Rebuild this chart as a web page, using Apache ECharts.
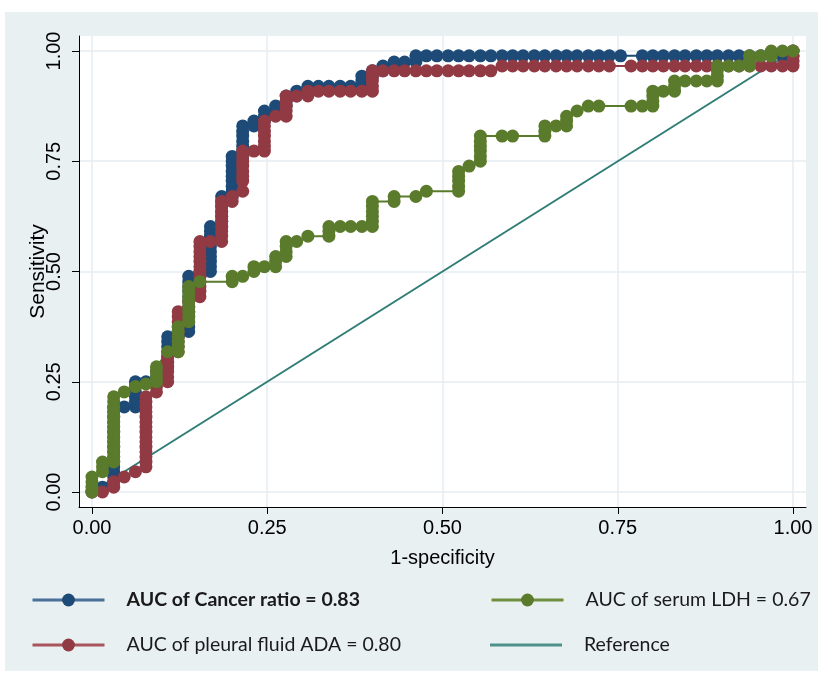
<!DOCTYPE html>
<html>
<head>
<meta charset="utf-8">
<title>ROC curves</title>
<script src="https://cdn.jsdelivr.net/npm/echarts@6.0.0/dist/echarts.min.js"></script>
<style>
	html, body { margin: 0; padding: 0; background: #fff; }
	#main { width: 818px; height: 675px; }
</style>
</head>
<body>
<div id="main"></div>
<script>
// 名称
var seriesNames = ['AUC of Cancer ratio = 0.83', 'AUC of pleural fluid ADA = 0.80', 'AUC of serum LDH = 0.67', 'Reference'];
var tickValues = [0, 0.25, 0.5, 0.75, 1];

// [1-specificity, sensitivity]
var cancerRatio = [
	[0, 0], [0.015, 0.011], [0.031, 0.023], [0.031, 0.034], [0.031, 0.046], [0.031, 0.057], [0.031, 0.068],
	[0.031, 0.08], [0.031, 0.091], [0.031, 0.102], [0.031, 0.114], [0.031, 0.125], [0.031, 0.136], [0.031, 0.148],
	[0.031, 0.159], [0.031, 0.17], [0.031, 0.182], [0.031, 0.193],
	[0.046, 0.193], [0.062, 0.193], [0.062, 0.205], [0.062, 0.216], [0.062, 0.227], [0.062, 0.239], [0.062, 0.25],
	[0.077, 0.25], [0.092, 0.25], [0.092, 0.261], [0.092, 0.273],
	[0.108, 0.284], [0.108, 0.295], [0.108, 0.307], [0.108, 0.318], [0.108, 0.33], [0.108, 0.341], [0.108, 0.352],
	[0.123, 0.352], [0.123, 0.364],
	[0.138, 0.364], [0.138, 0.375], [0.138, 0.386], [0.138, 0.398], [0.138, 0.409], [0.138, 0.42], [0.138, 0.432],
	[0.138, 0.443], [0.138, 0.455], [0.138, 0.466], [0.138, 0.477], [0.138, 0.489],
	[0.154, 0.489], [0.154, 0.5],
	[0.169, 0.5], [0.169, 0.511], [0.169, 0.523], [0.169, 0.534], [0.169, 0.545], [0.169, 0.557], [0.169, 0.568],
	[0.169, 0.58], [0.169, 0.591], [0.169, 0.602],
	[0.185, 0.602], [0.185, 0.614], [0.185, 0.625], [0.185, 0.636], [0.185, 0.648], [0.185, 0.659], [0.185, 0.67],
	[0.2, 0.67], [0.2, 0.682], [0.2, 0.693], [0.2, 0.705], [0.2, 0.716], [0.2, 0.727], [0.2, 0.739], [0.2, 0.75], [0.2, 0.761],
	[0.215, 0.761], [0.215, 0.773], [0.215, 0.784], [0.215, 0.795], [0.215, 0.807], [0.215, 0.818], [0.215, 0.83],
	[0.231, 0.83], [0.231, 0.841],
	[0.246, 0.841], [0.246, 0.852], [0.246, 0.864],
	[0.262, 0.864], [0.262, 0.875],
	[0.277, 0.875], [0.277, 0.886], [0.277, 0.898],
	[0.292, 0.898], [0.292, 0.909],
	[0.308, 0.909], [0.308, 0.92],
	[0.323, 0.92], [0.338, 0.92], [0.354, 0.92], [0.369, 0.92],
	[0.385, 0.92], [0.385, 0.932], [0.385, 0.943],
	[0.4, 0.943], [0.4, 0.955],
	[0.415, 0.955], [0.415, 0.966],
	[0.431, 0.966], [0.431, 0.975], [0.446, 0.975],
	[0.462, 0.975], [0.462, 0.989],
	[0.477, 0.989], [0.492, 0.989], [0.508, 0.989], [0.523, 0.989], [0.538, 0.989], [0.554, 0.989], [0.569, 0.989],
	[0.585, 0.989], [0.6, 0.989], [0.615, 0.989], [0.631, 0.989], [0.646, 0.989], [0.662, 0.989], [0.677, 0.989],
	[0.692, 0.989], [0.708, 0.989], [0.723, 0.989], [0.738, 0.989], [0.754, 0.989],
	[0.785, 0.989], [0.8, 0.989], [0.815, 0.989], [0.831, 0.989], [0.846, 0.989], [0.862, 0.989], [0.877, 0.989],
	[0.892, 0.989], [0.908, 0.989], [0.923, 0.989], [0.938, 0.989], [0.954, 0.989], [0.969, 0.989], [0.985, 0.989],
	[1, 0.989], [1, 1]
];

var pleuralADA = [
	[0, 0], [0.015, 0], [0.031, 0.011], [0.031, 0.023], [0.046, 0.034], [0.062, 0.046], [0.077, 0.057],
	[0.077, 0.068], [0.077, 0.08], [0.077, 0.091], [0.077, 0.102], [0.077, 0.114], [0.077, 0.125], [0.077, 0.136],
	[0.077, 0.148], [0.077, 0.159], [0.077, 0.17], [0.077, 0.182], [0.077, 0.193], [0.077, 0.205], [0.077, 0.216],
	[0.092, 0.227], [0.092, 0.239], [0.092, 0.25],
	[0.108, 0.25], [0.108, 0.261], [0.108, 0.273], [0.108, 0.284], [0.108, 0.295], [0.108, 0.307],
	[0.123, 0.318], [0.123, 0.33], [0.123, 0.341], [0.123, 0.352], [0.123, 0.364], [0.123, 0.375], [0.123, 0.386],
	[0.123, 0.398], [0.123, 0.409],
	[0.138, 0.409], [0.138, 0.42], [0.138, 0.432],
	[0.154, 0.443], [0.154, 0.455], [0.154, 0.466], [0.154, 0.477], [0.154, 0.489], [0.154, 0.5], [0.154, 0.511],
	[0.154, 0.523], [0.154, 0.534], [0.154, 0.545], [0.154, 0.557], [0.154, 0.568],
	[0.169, 0.568],
	[0.185, 0.568], [0.185, 0.58], [0.185, 0.591], [0.185, 0.602], [0.185, 0.614], [0.185, 0.625], [0.185, 0.636],
	[0.185, 0.648], [0.185, 0.659],
	[0.2, 0.659], [0.2, 0.67],
	[0.215, 0.682], [0.215, 0.705], [0.215, 0.716], [0.215, 0.727], [0.215, 0.739], [0.215, 0.75], [0.215, 0.761], [0.215, 0.773],
	[0.231, 0.773],
	[0.246, 0.773], [0.246, 0.784], [0.246, 0.795], [0.246, 0.807], [0.246, 0.818], [0.246, 0.83], [0.246, 0.841],
	[0.262, 0.852],
	[0.277, 0.852], [0.277, 0.864], [0.277, 0.875], [0.277, 0.886], [0.277, 0.898],
	[0.292, 0.898], [0.308, 0.898], [0.308, 0.909],
	[0.323, 0.909], [0.338, 0.909], [0.354, 0.909], [0.369, 0.909], [0.385, 0.909],
	[0.4, 0.909], [0.4, 0.92], [0.4, 0.932], [0.4, 0.943], [0.4, 0.955],
	[0.415, 0.955], [0.431, 0.955], [0.446, 0.955], [0.462, 0.955], [0.477, 0.955], [0.492, 0.955], [0.508, 0.955],
	[0.523, 0.955], [0.538, 0.955], [0.554, 0.955], [0.569, 0.955],
	[0.585, 0.966], [0.6, 0.966], [0.615, 0.966], [0.631, 0.966], [0.646, 0.966], [0.662, 0.966], [0.677, 0.966],
	[0.692, 0.966], [0.708, 0.966], [0.723, 0.966], [0.738, 0.966],
	[0.769, 0.966], [0.785, 0.966], [0.8, 0.966], [0.815, 0.966], [0.831, 0.966], [0.846, 0.966], [0.862, 0.966],
	[0.877, 0.966], [0.892, 0.966], [0.908, 0.966], [0.923, 0.966], [0.938, 0.966], [0.954, 0.966], [0.969, 0.966],
	[0.985, 0.966], [1, 0.966], [1, 0.977], [1, 0.989], [1, 1]
];

var serumLDH = [
	[0, 0], [0, 0.011], [0, 0.023], [0, 0.034],
	[0.015, 0.046], [0.015, 0.057], [0.015, 0.068],
	[0.031, 0.068], [0.031, 0.08], [0.031, 0.091], [0.031, 0.102], [0.031, 0.114], [0.031, 0.125], [0.031, 0.136],
	[0.031, 0.148], [0.031, 0.159], [0.031, 0.17], [0.031, 0.182], [0.031, 0.193], [0.031, 0.205], [0.031, 0.216],
	[0.046, 0.227], [0.062, 0.239], [0.077, 0.245],
	[0.092, 0.25], [0.092, 0.261], [0.092, 0.273], [0.092, 0.284],
	[0.108, 0.318],
	[0.123, 0.318], [0.123, 0.33], [0.123, 0.341], [0.123, 0.352], [0.123, 0.364], [0.123, 0.375],
	[0.138, 0.386], [0.138, 0.398], [0.138, 0.409], [0.138, 0.42], [0.138, 0.432], [0.138, 0.443], [0.138, 0.455], [0.138, 0.466],
	[0.154, 0.477],
	[0.2, 0.477], [0.2, 0.489],
	[0.215, 0.489],
	[0.231, 0.5], [0.231, 0.511],
	[0.246, 0.511],
	[0.262, 0.511], [0.262, 0.523], [0.262, 0.534],
	[0.277, 0.534], [0.277, 0.545], [0.277, 0.557], [0.277, 0.568],
	[0.292, 0.568],
	[0.308, 0.58],
	[0.338, 0.58], [0.338, 0.591], [0.338, 0.602],
	[0.354, 0.602], [0.369, 0.602], [0.385, 0.602],
	[0.4, 0.602], [0.4, 0.614], [0.4, 0.625], [0.4, 0.636], [0.4, 0.648], [0.4, 0.659],
	[0.431, 0.659], [0.431, 0.67],
	[0.462, 0.67],
	[0.477, 0.682],
	[0.523, 0.682], [0.523, 0.693], [0.523, 0.705], [0.523, 0.716], [0.523, 0.727],
	[0.538, 0.739],
	[0.554, 0.75], [0.554, 0.761], [0.554, 0.773], [0.554, 0.784], [0.554, 0.795], [0.554, 0.807],
	[0.585, 0.807], [0.6, 0.807],
	[0.646, 0.807], [0.646, 0.818], [0.646, 0.83],
	[0.662, 0.83],
	[0.677, 0.83], [0.677, 0.841], [0.677, 0.852],
	[0.692, 0.864],
	[0.708, 0.875], [0.723, 0.875],
	[0.769, 0.875], [0.785, 0.875],
	[0.8, 0.875], [0.8, 0.886], [0.8, 0.898], [0.8, 0.909],
	[0.815, 0.909],
	[0.831, 0.909], [0.831, 0.92], [0.831, 0.932],
	[0.846, 0.932], [0.862, 0.932], [0.877, 0.932],
	[0.892, 0.932], [0.892, 0.943], [0.892, 0.955], [0.892, 0.966],
	[0.908, 0.966], [0.923, 0.966],
	[0.938, 0.966], [0.938, 0.977], [0.938, 0.989],
	[0.954, 0.989],
	[0.969, 0.989], [0.969, 1],
	[0.985, 1], [1, 1]
];

var referenceLine = [[0, 0], [1, 1]];

var colors = ['#1d4a76', '#913a44', '#5b7b2c', '#2f7d75'];
var legendLineColors = ['#4a6f98', '#a9555e', '#6f8f3f', '#4d918a'];

var axisFont = "'Liberation Sans', Arial, sans-serif";
var legendFont = "Lato, 'Open Sans', sans-serif";

var myChart = echarts.init(document.getElementById('main'));

function rocSeries(name, data, color) {
	return {
		name: name,
		type: 'line',
		data: data,
		symbol: 'circle',
		symbolSize: 13,
		color: color,
		itemStyle: { color: color },
		lineStyle: { color: color, width: 2 },
		animation: false
	};
}

// 图例：每一项单独放
function legendItem(idx, left, top, bold, isLine) {
	return {
		data: [seriesNames[idx]],
		left: left,
		top: top,
		padding: 0,
		itemWidth: 72,
		itemHeight: isLine ? 3 : 16,
		icon: isLine ? 'rect' : undefined,
		selectedMode: false,
		itemStyle: { color: isLine ? legendLineColors[idx] : colors[idx] },
		lineStyle: { color: legendLineColors[idx], width: 3 },
		textStyle: {
			fontFamily: legendFont,
			fontSize: 19.5,
			fontWeight: bold ? 'bold' : 'normal',
			color: '#1a1a1a',
			padding: [0, 0, 0, 17]
		}
	};
}

var option = {
	backgroundColor: '#fff',
	animation: false,
	graphic: [{
		type: 'rect',
		z: -10,
		shape: { x: 5, y: 12, width: 813, height: 659 },
		style: { fill: '#e8f0f2' }
	}],
	grid: {
		left: 79,
		top: 36,
		width: 727,
		height: 471,
		show: true,
		backgroundColor: '#fff',
		borderWidth: 0
	},
	legend: [
		legendItem(0, 31, 590, true, false),
		legendItem(2, 490, 590, false, false),
		legendItem(1, 31, 635, false, false),
		legendItem(3, 490, 635, false, true)
	],
	xAxis: {
		type: 'value',
		min: -0.0185,
		max: 1.0185,
		name: '1-specificity',
		nameLocation: 'middle',
		nameGap: 41,
		nameTextStyle: { fontFamily: axisFont, fontSize: 20, color: '#000' },
		axisLine: { onZero: false, lineStyle: { color: '#000', width: 1 } },
		axisTick: { customValues: tickValues, length: 7, lineStyle: { color: '#000' } },
		axisLabel: {
			customValues: tickValues,
			margin: 11,
			fontFamily: axisFont,
			fontSize: 20,
			color: '#000',
			formatter: function(v) { return v.toFixed(2); }
		},
		splitLine: { show: true, lineStyle: { color: '#e4edf1', width: 1.5 } }
	},
	yAxis: {
		type: 'value',
		min: -0.034,
		max: 1.034,
		name: 'Sensitivity',
		nameLocation: 'middle',
		nameGap: 30,
		nameMoveOverlap: false,
		nameTextStyle: { fontFamily: axisFont, fontSize: 21, color: '#000' },
		axisLine: { show: true, onZero: false, lineStyle: { color: '#000', width: 1 } },
		axisTick: { show: true, customValues: tickValues, length: 7, lineStyle: { color: '#000' } },
		axisLabel: {
			customValues: tickValues,
			rotate: 90,
			margin: 15,
			fontFamily: axisFont,
			fontSize: 20,
			color: '#000',
			formatter: function(v) { return v.toFixed(2); }
		},
		splitLine: { show: true, lineStyle: { color: '#e4edf1', width: 1.5 } }
	},
	series: [
		rocSeries(seriesNames[0], cancerRatio, colors[0]),
		rocSeries(seriesNames[1], pleuralADA, colors[1]),
		rocSeries(seriesNames[2], serumLDH, colors[2]),
		{
			name: seriesNames[3],
			type: 'line',
			data: referenceLine,
			symbol: 'none',
			color: colors[3],
			lineStyle: { color: colors[3], width: 2 }
		}
	]
};

myChart.setOption(option);
</script>
</body>
</html>
